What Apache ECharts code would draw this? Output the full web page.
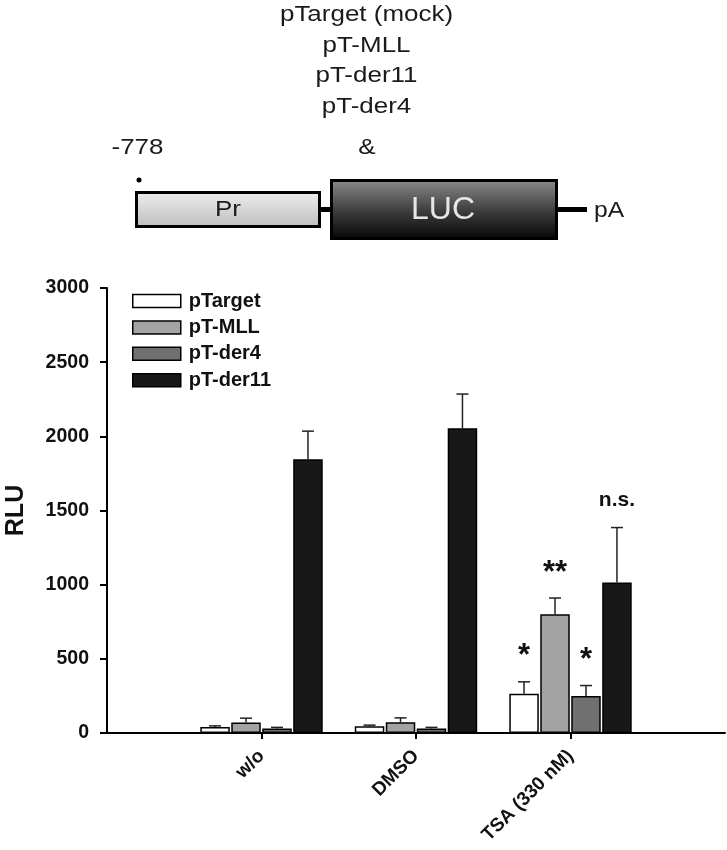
<!DOCTYPE html>
<html>
<head>
<meta charset="utf-8">
<script src="https://cdn.jsdelivr.net/npm/echarts@6.0.0/dist/echarts.min.js"></script>
<style>
html,body{margin:0;padding:0;background:#fff;}
#chart{width:727px;height:850px;}
</style>
</head>
<body>
<div id="chart"></div>
<script>
// ---- data ----
var categories = ['w/o', 'DMSO', 'TSA (330 nM)'];
var seriesNames = ['pTarget', 'pT-MLL', 'pT-der4', 'pT-der11'];
var pTarget = [40, 45, 265];
var pTargetErr = [8, 8, 80];
var pTMLL = [70, 72, 800];
var pTMLLErr = [30, 30, 110];
var pTder4 = [30, 30, 250];
var pTder4Err = [8, 8, 70];
var pTder11 = [1845, 2055, 1015];
var pTder11Err = [190, 230, 370];
var sigTarget = ['', '', '*'];
var sigMLL = ['', '', '**'];
var sigDer4 = ['', '', '*'];
var sigDer11 = ['', '', 'n.s.'];
var yTicks = [0, 500, 1000, 1500, 2000, 2500, 3000];
var diagramLabels = ['pTarget (mock)', 'pT-MLL', 'pT-der11', 'pT-der4'];

var values = [pTarget, pTMLL, pTder4, pTder11];
var errs = [pTargetErr, pTMLLErr, pTder4Err, pTder11Err];
var sigs = [sigTarget, sigMLL, sigDer4, sigDer11];
var colors = ['#ffffff', '#a3a3a3', '#707070', '#181818'];

var BAR_W = 29.5, BAR_GAP = 0.05;
var PITCH = BAR_W * (1 + BAR_GAP);

var chart = echarts.init(document.getElementById('chart'), null, {renderer: 'canvas'});

var series = [];
values.forEach(function (vals, i) {
  series.push({
    name: seriesNames[i],
    type: 'bar',
    xAxisIndex: 0, yAxisIndex: 0,
    barWidth: BAR_W,
    barGap: (BAR_GAP * 100) + '%',
    itemStyle: {color: colors[i], borderColor: '#000', borderWidth: 1.5},
    emphasis: {disabled: true},
    z: 2,
    data: vals.map(function (v, k) { return [k + 1, v]; })
  });
});
values.forEach(function (vals, i) {
  series.push({
    name: 'err' + i,
    type: 'custom',
    z: 5,
    silent: true,
    data: vals.map(function (v, k) { return [k + 1, v, errs[i][k]]; }),
    renderItem: function (params, api) {
      var x = api.value(0), y = api.value(1), e = api.value(2);
      var sig = sigs[i][params.dataIndex];
      var p = api.coord([x, y]);
      var pe = api.coord([x, y + e]);
      var cx = p[0] + (i - 1.5) * PITCH;
      var children = [
        {type: 'line', shape: {x1: cx, y1: p[1], x2: cx, y2: pe[1]}, style: {stroke: '#222', lineWidth: 1.5}},
        {type: 'line', shape: {x1: cx - 6, y1: pe[1], x2: cx + 6, y2: pe[1]}, style: {stroke: '#222', lineWidth: 1.5}}
      ];
      if (sig) {
        var isStar = sig.indexOf('*') === 0;
        children.push({
          type: 'text',
          style: {
            x: cx, y: isStar ? pe[1] - 25 : pe[1] - 27,
            text: sig,
            fill: '#111',
            font: isStar ? 'bold 31px "Liberation Sans", Arial, sans-serif' : 'bold 21px "Liberation Sans", Arial, sans-serif',
            align: 'center', verticalAlign: 'middle'
          }
        });
      }
      return {type: 'group', children: children};
    }
  });
});

var FONT = '"Liberation Sans", Arial, sans-serif';
function txt(x, y, s, size, opts) {
  opts = opts || {};
  return {
    type: 'text', x: x, y: y, scaleX: opts.sx || 1.18, z: 10, silent: true,
    style: {x: 0, y: 0, text: s, fontSize: size, fontFamily: FONT, fill: opts.fill || '#1a1a1a',
      align: 'center', verticalAlign: 'middle', fontWeight: opts.bold ? 'bold' : 'normal'}
  };
}
var graphics = [];
diagramLabels.forEach(function (s, k) {
  graphics.push(txt(366.5, 15 + k * 30.5, s, 22));
});
graphics.push(txt(367, 148, '&', 22));
graphics.push(txt(137.5, 148, '-778', 22));
graphics.push({type: 'circle', z: 10, silent: true, shape: {cx: 139, cy: 180, r: 2.5}, style: {fill: '#000'}});
graphics.push({type: 'line', z: 9, silent: true, shape: {x1: 318, y1: 209.5, x2: 333, y2: 209.5}, style: {stroke: '#000', lineWidth: 5}});
graphics.push({type: 'line', z: 9, silent: true, shape: {x1: 555, y1: 209.5, x2: 587, y2: 209.5}, style: {stroke: '#000', lineWidth: 5}});
graphics.push({
  type: 'rect', z: 10, silent: true, shape: {x: 136.5, y: 192.5, width: 183, height: 34},
  style: {
    fill: new echarts.graphic.LinearGradient(0, 0, 0, 1, [{offset: 0, color: '#eeeeee'}, {offset: 1, color: '#bdbdbd'}]),
    stroke: '#000', lineWidth: 3
  }
});
graphics.push({
  type: 'rect', z: 10, silent: true, shape: {x: 331.5, y: 180.5, width: 225, height: 58},
  style: {
    fill: new echarts.graphic.LinearGradient(0, 0, 0, 1, [{offset: 0, color: '#8c8c8c'}, {offset: 0.55, color: '#3a3a3a'}, {offset: 1, color: '#050505'}]),
    stroke: '#000', lineWidth: 3
  }
});
graphics.push(txt(228, 210, 'Pr', 22));
graphics.push(txt(443, 210, 'LUC', 32, {fill: '#e6e6e6', sx: 1.0}));
graphics.push(txt(609, 211, 'pA', 22, {sx: 1.12}));

var option = {
  animation: false,
  backgroundColor: '#ffffff',
  textStyle: {fontFamily: FONT},
  graphic: graphics,
  grid: {left: 107, right: 2, top: 288, bottom: 117, containLabel: false, outerBoundsMode: 'none'},
  legend: {
    orient: 'vertical', left: 127, top: 286, itemWidth: 48, itemHeight: 13, itemGap: 6.4,
    selectedMode: false, icon: 'rect',
    data: seriesNames,
    textStyle: {fontFamily: FONT, fontWeight: 'bold', fontSize: 20, color: '#111', lineHeight: 20, padding: [0, 0, 0, 3]},
    itemStyle: {borderColor: '#000', borderWidth: 1.5}
  },
  xAxis: {
    type: 'value', min: 0, max: 4,
    splitLine: {show: false},
    axisLine: {show: true, onZero: false, lineStyle: {color: '#000', width: 2}},
    axisTick: {show: true, customValues: [1, 2, 3], length: 6, inside: false, lineStyle: {color: '#000', width: 2}},
    axisLabel: {
      customValues: [1, 2, 3], rotate: 45, margin: 20,
      fontFamily: FONT, fontWeight: 'bold', fontSize: 19, color: '#111',
      formatter: function (v) { return categories[Math.round(v) - 1] || ''; }
    }
  },
  yAxis: {
    type: 'value', min: yTicks[0], max: yTicks[yTicks.length - 1], interval: 500,
    splitLine: {show: false},
    name: 'RLU', nameLocation: 'middle', nameGap: 78, nameRotate: 90,
    nameTextStyle: {fontFamily: FONT, fontWeight: 'bold', fontSize: 25, color: '#111'},
    axisLine: {show: true, lineStyle: {color: '#000', width: 2}},
    axisTick: {show: true, length: 7, inside: false, lineStyle: {color: '#000', width: 2}},
    axisLabel: {margin: 18, fontFamily: FONT, fontWeight: 'bold', fontSize: 19.5, color: '#111',
      formatter: function (v) { return String(v); }}
  },
  series: series
};
chart.setOption(option);
</script>
</body>
</html>
